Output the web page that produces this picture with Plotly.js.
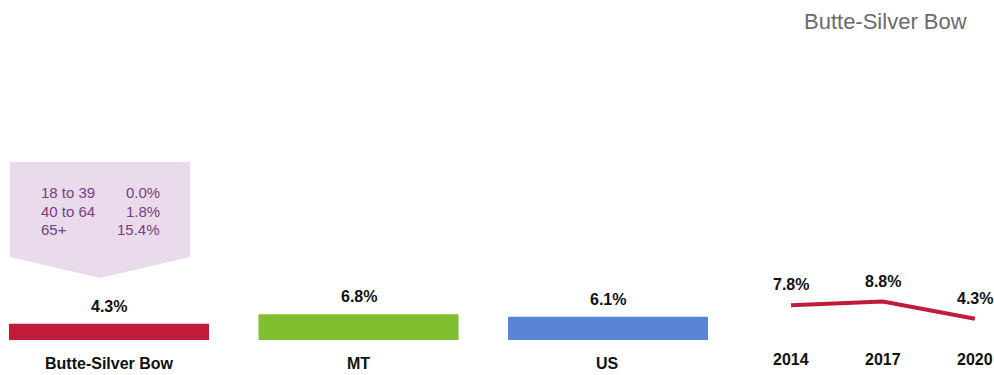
<!DOCTYPE html>
<html>
<head>
<meta charset="utf-8">
<script src="https://cdn.plot.ly/plotly-3.0.1.min.js"></script>
<style>html,body{margin:0;padding:0;background:#fff;}#chart{width:994px;height:375px;}</style>
</head>
<body>
<div id="chart"></div>
<script>
// ---- data ----
const regions = ["Butte-Silver Bow", "MT", "US"];
const regionValues = [4.3, 6.8, 6.1];
const regionColors = ["#c01c39", "#80bf30", "#5a85d6"];
const years = ["2014", "2017", "2020"];
const yearValues = [7.8, 8.8, 4.3];
const ageGroups = ["18 to 39", "40 to 64", "65+"];
const ageValues = ["0.0%", "1.8%", "15.4%"];
const chartTitle = "Butte-Silver Bow";

const W = 994, H = 375;
const boldFont = {family: "Arial, 'Liberation Sans', sans-serif", size: 16, color: "#111", weight: "bold"};

const traces = [
  {
    type: "bar", x: regions, y: regionValues, xaxis: "x", yaxis: "y",
    marker: {color: regionColors}, width: 0.8016, hoverinfo: "skip"
  },
  {
    type: "scatter", mode: "lines", x: years, y: yearValues, xaxis: "x2", yaxis: "y2",
    line: {color: "#c01c39", width: 4}, hoverinfo: "skip"
  }
];

const annotations = [];
regions.forEach((r, i) => {
  annotations.push({xref: "x", yref: "y", x: i, y: regionValues[i], text: regionValues[i].toFixed(1) + "%",
    showarrow: false, yanchor: "bottom", yshift: 7, font: boldFont});
  annotations.push({xref: "x", yref: "y", x: i, y: 0, text: r,
    showarrow: false, yanchor: "middle", yshift: -23, font: boldFont});
});
years.forEach((yr, i) => {
  annotations.push({xref: "x2", yref: "y2", x: i, y: yearValues[i], text: yearValues[i].toFixed(1) + "%",
    showarrow: false, yanchor: "bottom", yshift: 10, font: boldFont});
  annotations.push({xref: "x2", yref: "y2", x: i, y: 0, text: yr,
    showarrow: false, yanchor: "middle", yshift: -24, font: boldFont});
});
const calloutFont = {family: "Arial, 'Liberation Sans', sans-serif", size: 15, color: "#7a3d80"};
ageGroups.forEach((g, i) => {
  const yp = 1 - (192 + i * 19) / H;
  annotations.push({xref: "paper", yref: "paper", x: 39 / W, y: yp, text: g, showarrow: false,
    xanchor: "left", yanchor: "middle", font: calloutFont});
  annotations.push({xref: "paper", yref: "paper", x: 162 / W, y: yp, text: ageValues[i], showarrow: false,
    xanchor: "right", yanchor: "middle", font: calloutFont});
});
annotations.push({xref: "paper", yref: "paper", x: 969 / W, y: 1 - 21 / H, text: chartTitle, showarrow: false,
  xanchor: "right", yanchor: "middle", font: {family: "Arial, 'Liberation Sans', sans-serif", size: 22, color: "#6b6b6b"}});

function px(x, y) { return (x / W).toFixed(5) + "," + (1 - y / H).toFixed(5); }
const calloutPath = "M" + px(10, 162) + " L" + px(190, 162) + " L" + px(190, 257) + " L" + px(100, 278) + " L" + px(10, 257) + " Z";

const layout = {
  width: W, height: H,
  margin: {l: 0, r: 0, t: 0, b: 0},
  paper_bgcolor: "#ffffff", plot_bgcolor: "rgba(0,0,0,0)",
  showlegend: false,
  xaxis: {domain: [0, 0.74], type: "category", range: [-0.4369, 2.5113], visible: false, fixedrange: true},
  yaxis: {domain: [0, 1], range: [-9.21, 89.47], visible: false, fixedrange: true},
  xaxis2: {domain: [0.76, 1], anchor: "y2", type: "category", range: [-0.387, 2.207], visible: false, fixedrange: true},
  yaxis2: {domain: [0, 1], anchor: "x2", range: [-10.526, 88.16], visible: false, fixedrange: true},
  shapes: [{type: "path", xref: "paper", yref: "paper", path: calloutPath, fillcolor: "#e9dbec", line: {width: 0}, layer: "below"}],
  annotations: annotations
};

Plotly.newPlot("chart", traces, layout, {displayModeBar: false, staticPlot: true});
</script>
</body>
</html>
